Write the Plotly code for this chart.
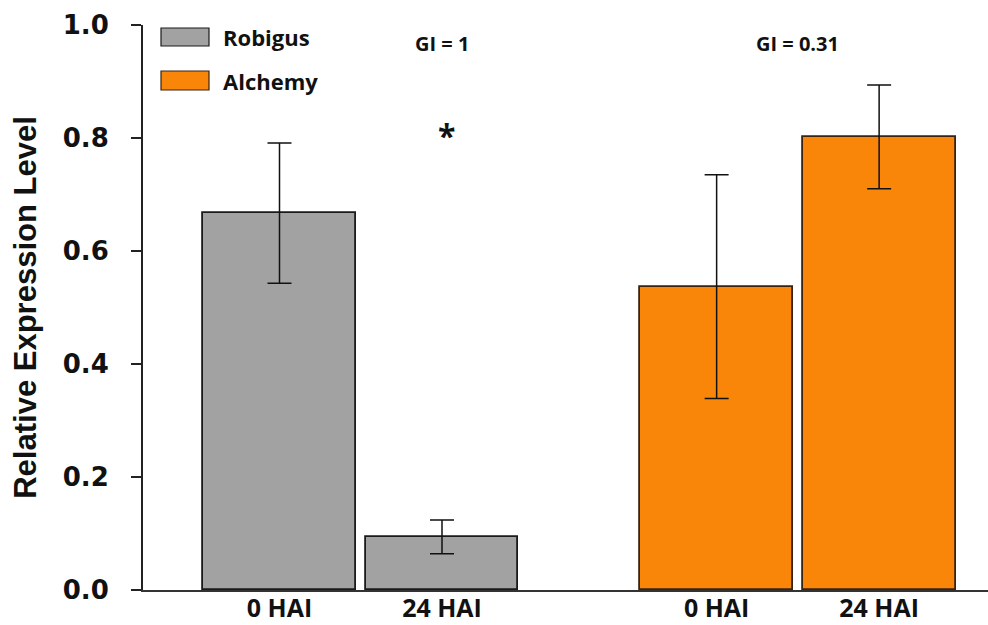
import plotly.graph_objects as go

# Relative expression of the target gene in two wheat cultivars
cultivars = ["Robigus", "Alchemy"]
timepoints = ["0 HAI", "24 HAI"]
robigus_mean = [0.667, 0.094]
robigus_err = [0.124, 0.030]
alchemy_mean = [0.537, 0.802]
alchemy_err = [0.198, 0.092]
gi_labels = ["GI = 1", "GI = 0.31"]

# bar slot positions along the x axis (two groups of two)
robigus_x = [0.0, 1.0]
alchemy_x = [2.69, 3.69]

colors = {"Robigus": "#a2a2a2", "Alchemy": "#f98608"}
outlines = {"Robigus": "#1a1a1a", "Alchemy": "#3a2210"}

W, H = 988, 625
ML, MR, MT, MB = 143, 0, 25, 35
PW, PH = W - ML - MR, H - MT - MB

fig = go.Figure()
for name, xs, ys, es in [("Robigus", robigus_x, robigus_mean, robigus_err),
                         ("Alchemy", alchemy_x, alchemy_mean, alchemy_err)]:
    fig.add_trace(go.Bar(
        x=xs, y=ys, name=name, width=0.94,
        marker=dict(color=colors[name], line=dict(color=outlines[name], width=1.8)),
        error_y=dict(type="data", array=es, visible=True, color="#111111",
                     thickness=1.5, width=12),
        showlegend=False,
    ))

tick_x = robigus_x + alchemy_x
tick_text = timepoints + timepoints

fig.update_layout(
    width=W, height=H,
    margin=dict(l=ML, r=MR, t=MT, b=MB, autoexpand=False),
    paper_bgcolor="white", plot_bgcolor="white",
    bargap=0,
    xaxis=dict(
        range=[-0.84, 4.36], tickvals=tick_x, ticktext=tick_text,
        tickfont=dict(family="Open Sans", size=25, color="#111111", weight="bold"),
        showline=True, linecolor="#333333", linewidth=2,
        ticks="", showgrid=False, zeroline=False, automargin=False,
        ticklabelstandoff=-5,
    ),
    yaxis=dict(
        range=[0, 1.0], tickvals=[0, 0.2, 0.4, 0.6, 0.8, 1.0],
        ticktext=["0.0", "0.2", "0.4", "0.6", "0.8", "1.0"],
        tickfont=dict(family="DejaVu Sans", size=26, color="#111111", weight="bold"),
        showline=True, linecolor="#222222", linewidth=2,
        ticks="outside", ticklen=10, tickwidth=1.5, tickcolor="#222222",
        ticklabelstandoff=17,
        showgrid=False, zeroline=False, automargin=False,
        title=dict(text="Relative Expression Level",
                   font=dict(family="Liberation Sans", size=31, color="#111111", weight="bold"),
                   standoff=17),
    ),
)

def px_x(p):
    return (p - ML) / PW

def px_y(p):
    return (H - MB - p) / PH

# Legend: rectangular swatches with bold labels
legend_rows = [(28, 46), (71, 90)]
for name, (y0, y1) in zip(cultivars, legend_rows):
    fig.add_shape(type="rect", xref="paper", yref="paper",
                  x0=px_x(161), x1=px_x(209), y0=px_y(y1), y1=px_y(y0),
                  fillcolor=colors[name], line=dict(color=outlines[name], width=1.2))
    fig.add_annotation(xref="paper", yref="paper", x=px_x(221), y=px_y((y0 + y1) / 2),
                       text=f"<b>{name}</b>", showarrow=False, xanchor="left",
                       yanchor="middle",
                       font=dict(family="Open Sans", size=22, color="#111111"))

# Grain-infection indices above each cultivar, and significance marker
gi_x = [robigus_x[1], (alchemy_x[0] + alchemy_x[1]) / 2]
for gx, txt in zip(gi_x, gi_labels):
    fig.add_annotation(x=gx, y=0.968, text=f"<b>{txt}</b>", showarrow=False,
                       font=dict(family="Open Sans", size=20, color="#111111"))
fig.add_annotation(x=robigus_x[1] + 0.03, y=0.805, text="<b>*</b>", showarrow=False,
                   font=dict(family="Open Sans", size=32, color="#111111"))

fig.write_html("out.html")
